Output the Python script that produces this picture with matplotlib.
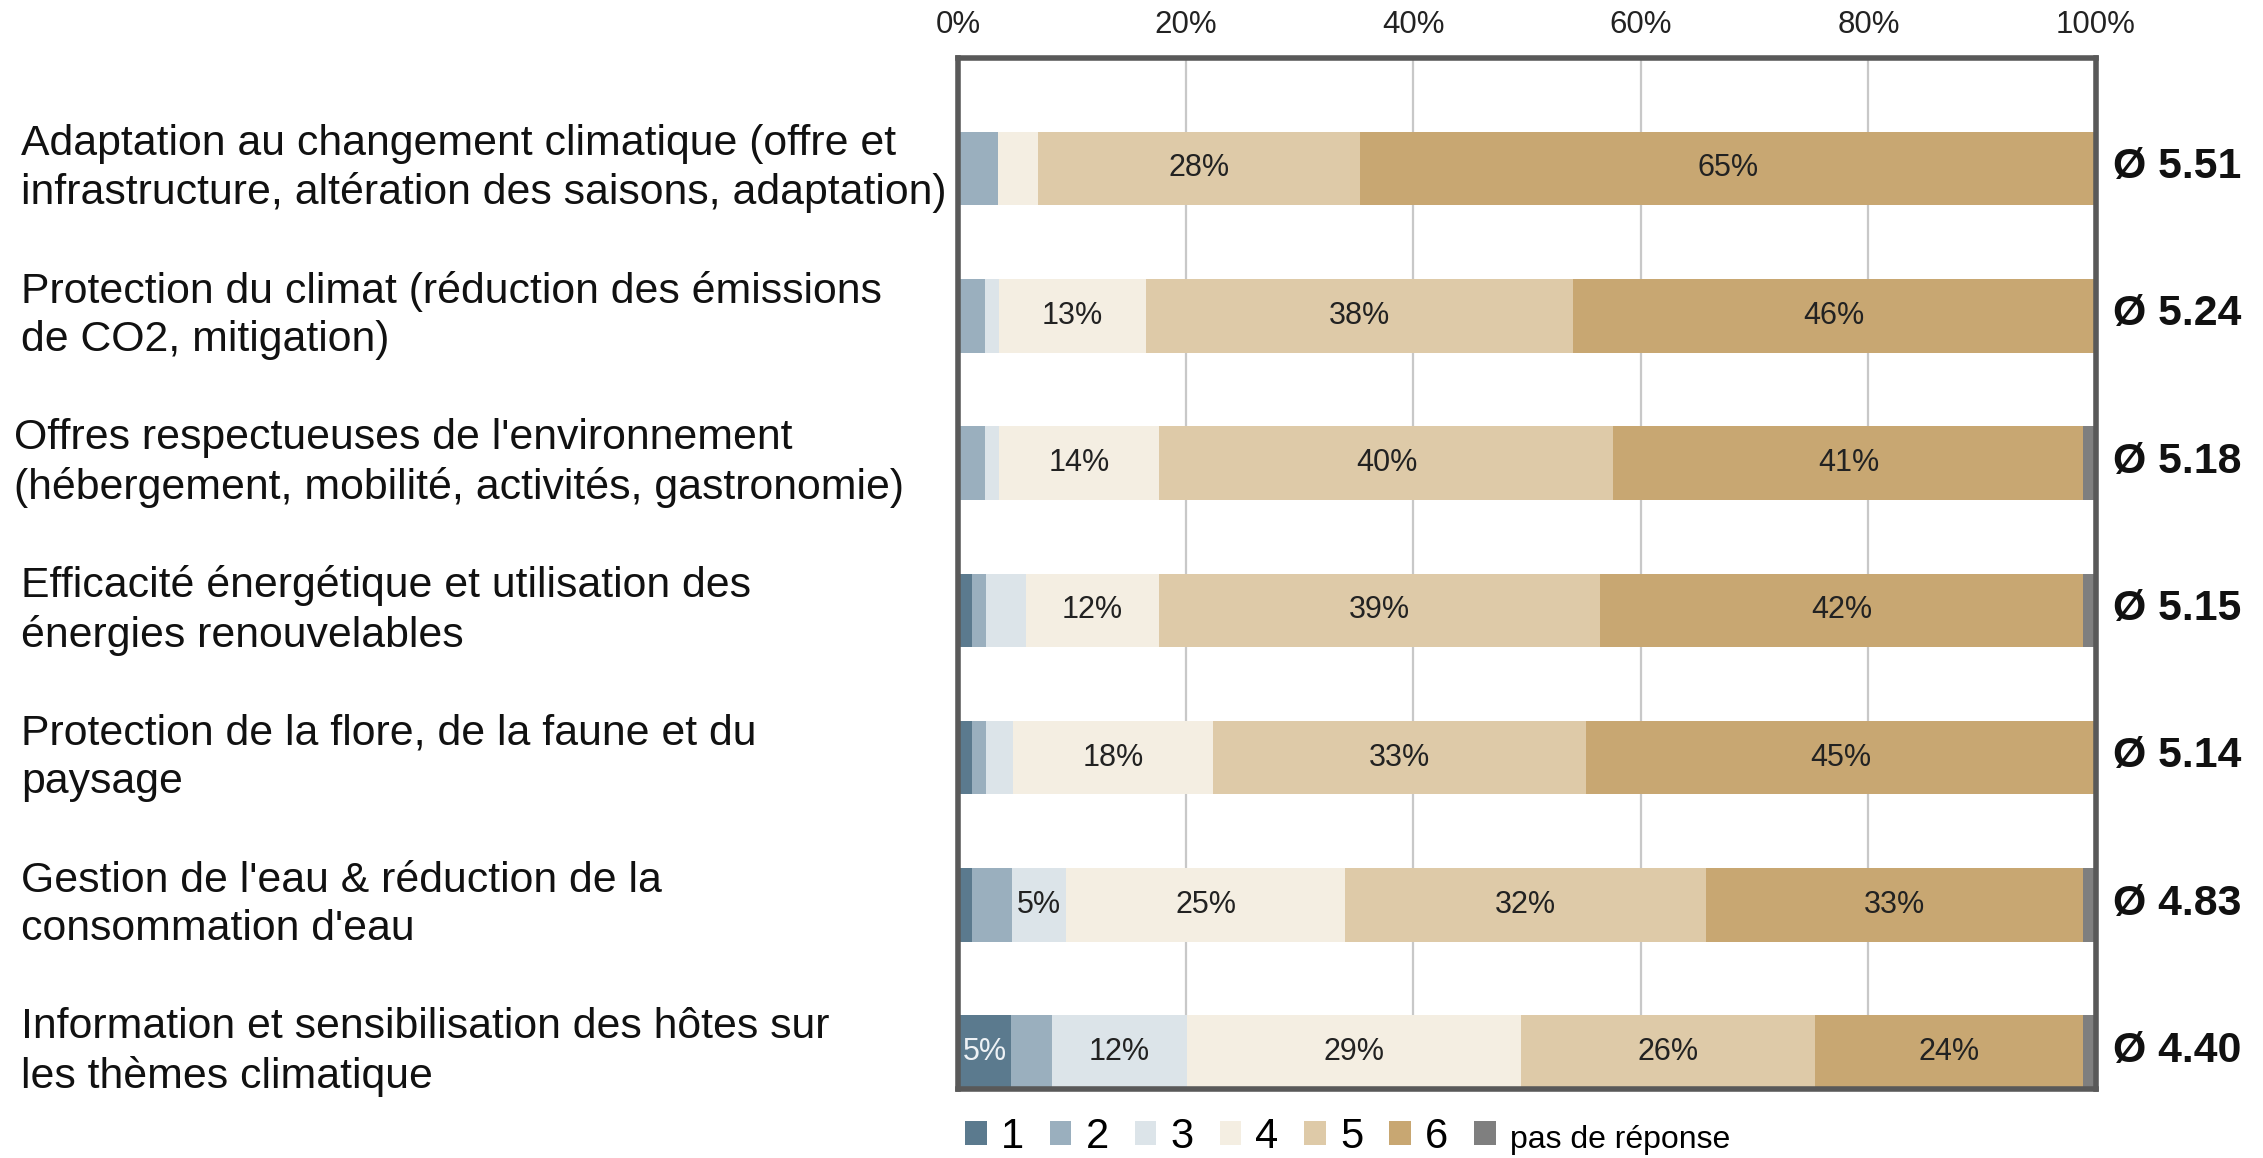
import matplotlib
matplotlib.use("Agg")
import matplotlib.pyplot as plt
from matplotlib.patches import Patch
from matplotlib.transforms import blended_transform_factory

plt.rcParams['font.family'] = ['Liberation Sans', 'DejaVu Sans']

categories = [
    "Adaptation au changement climatique (offre et\ninfrastructure, altération des saisons, adaptation)",
    "Protection du climat (réduction des émissions\nde CO2, mitigation)",
    "Offres respectueuses de l'environnement\n(hébergement, mobilité, activités, gastronomie)",
    "Efficacité énergétique et utilisation des\nénergies renouvelables",
    "Protection de la flore, de la faune et du\npaysage",
    "Gestion de l'eau & réduction de la\nconsommation d'eau",
    "Information et sensibilisation des hôtes sur\nles thèmes climatique",
]
averages = ["Ø 5.51", "Ø 5.24", "Ø 5.18", "Ø 5.15", "Ø 5.14", "Ø 4.83", "Ø 4.40"]

series_names = ["1", "2", "3", "4", "5", "6", "pas de réponse"]
s1 = [0.0, 0.0, 0.0, 1.25, 1.25, 1.25, 4.7]
s2 = [3.5, 2.4, 2.4, 1.2, 1.2, 3.5, 3.6]
s3 = [0.0, 1.2, 1.2, 3.5, 2.35, 4.7, 11.8]
s4 = [3.5, 12.9, 14.1, 11.7, 17.6, 24.6, 29.4]
s5 = [28.3, 37.5, 39.9, 38.8, 32.8, 31.7, 25.8]
s6 = [64.7, 46.0, 41.3, 42.45, 44.8, 33.15, 23.6]
s_na = [0.0, 0.0, 1.1, 1.1, 0.0, 1.1, 1.1]
series = [s1, s2, s3, s4, s5, s6, s_na]

colors = ["#5b7a8e", "#9aafbe", "#dce4e9", "#f4eee2", "#decaa8", "#c8a772", "#7f7f7f"]
text_colors = ["#eef2f5", "#222222", "#222222", "#222222", "#222222", "#222222", "#222222"]

W, H = 2263, 1158
fig = plt.figure(figsize=(W / 100, H / 100), dpi=100)
ax = fig.add_axes([958 / W, 1 - 1089 / H, (2096 - 958) / W, (1089 - 58) / H])

ypos = list(range(len(categories)))
left = [0.0] * len(categories)
for k, vals in enumerate(series):
    ax.barh(ypos, vals, left=left, height=0.5, color=colors[k], edgecolor='none', zorder=2)
    for i, v in enumerate(vals):
        if v >= 4.5:
            ax.text(left[i] + v / 2, i, f"{v:.0f}%", ha='center', va='center',
                    fontsize=22, color=text_colors[k], zorder=3)
    left = [l + v for l, v in zip(left, vals)]

ax.set_xlim(0, 100)
ax.set_ylim(len(categories) - 0.75, -0.75)
ax.set_xticks([0, 20, 40, 60, 80, 100])
ax.set_xticklabels(["0%", "20%", "40%", "60%", "80%", "100%"])
ax.xaxis.tick_top()
ax.tick_params(axis='x', length=0, pad=13, labelsize=22.5, labelcolor='#222222')
ax.set_yticks([])
ax.xaxis.grid(True, color='#c8c8c8', linewidth=1.6, zorder=0)
ax.set_axisbelow(True)
for sp in ax.spines.values():
    sp.set_color('#595959')
    sp.set_linewidth(4)
    sp.set_zorder(4)

trans = blended_transform_factory(fig.transFigure, ax.transData)
for i, lab in enumerate(categories):
    x = (14 if i == 2 else 21) / W
    ax.text(x, i, lab, transform=trans, ha='left', va='center', fontsize=30.8,
            linespacing=1.27, color='#111111')

for i, a in enumerate(averages):
    ax.annotate(a, xy=(100, i), xytext=(12, 1), textcoords='offset points',
                ha='left', va='center', fontsize=30.8, fontweight='bold', color='#111111',
                annotation_clip=False)

handles = [Patch(facecolor=c, edgecolor='none') for c in colors]
leg = fig.legend(handles, series_names, loc='center left', bbox_to_anchor=(965 / W, 1 - 1137 / H),
                 ncol=7, frameon=False, fontsize=30, handlelength=0.52, handleheight=0.52,
                 handletextpad=0.34, columnspacing=0.62, borderpad=0, borderaxespad=0)
leg.get_texts()[-1].set_fontsize(23)

fig.savefig("out.png", dpi=100)
